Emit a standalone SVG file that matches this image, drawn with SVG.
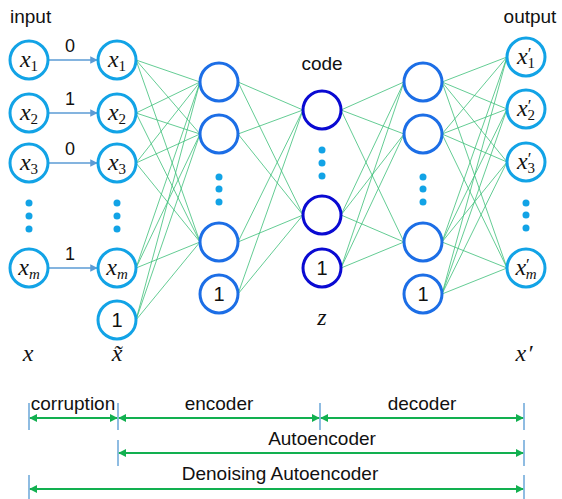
<svg xmlns="http://www.w3.org/2000/svg" width="562" height="499" viewBox="0 0 562 499">
<style>
.io{fill:#fff;stroke:#12a3e6;stroke-width:3}
.hid{fill:#fff;stroke:#1c6ee6;stroke-width:3}
.cod{fill:#fff;stroke:#0a0ad2;stroke-width:3}
.dot{fill:#12a3e6}
.w{stroke:#3cbf78;stroke-width:0.8;fill:none}
.in{stroke:#5b9bd5;stroke-width:1.5;fill:none}
.tick{stroke:#6aa6d8;stroke-width:1.5}
.dim{stroke:#12b050;stroke-width:2;fill:none}
.lbl{font-family:"Liberation Sans",Arial,sans-serif;font-size:19px;fill:#111}
.one{font-family:"Liberation Sans",Arial,sans-serif;font-size:20px;fill:#111;text-anchor:middle}
.m{font-family:"Liberation Serif","DejaVu Serif",serif;font-style:italic;font-size:24px;fill:#111;text-anchor:middle}
.s{font-size:15px;font-style:normal}
.si{font-size:15px}
.p{font-size:17px;font-style:normal}
</style>
<defs>
<marker id="ab" viewBox="0 0 10 10" refX="9" refY="5" markerWidth="5" markerHeight="5" orient="auto"><path d="M0,0 L10,5 L0,10 z" fill="#5b9bd5"/></marker>
<marker id="ag" viewBox="0 0 10 10" refX="9" refY="5" markerWidth="4" markerHeight="4" orient="auto-start-reverse"><path d="M0,0 L10,5 L0,10 z" fill="#12b050"/></marker>
</defs>

<g id="connectors">
<g class="w">
<line x1="136" y1="60" x2="200" y2="82"/><line x1="136" y1="60" x2="200" y2="134"/><line x1="136" y1="60" x2="200" y2="242"/>
<line x1="136" y1="113" x2="200" y2="82"/><line x1="136" y1="113" x2="200" y2="134"/><line x1="136" y1="113" x2="200" y2="242"/>
<line x1="136" y1="163" x2="200" y2="82"/><line x1="136" y1="163" x2="200" y2="134"/><line x1="136" y1="163" x2="200" y2="242"/>
<line x1="136" y1="268" x2="200" y2="82"/><line x1="136" y1="268" x2="200" y2="134"/><line x1="136" y1="268" x2="200" y2="242"/>
<line x1="136" y1="320" x2="200" y2="82"/><line x1="136" y1="320" x2="200" y2="134"/><line x1="136" y1="320" x2="200" y2="242"/>
<line x1="238" y1="82" x2="303" y2="110"/><line x1="238" y1="82" x2="303" y2="215"/>
<line x1="238" y1="134" x2="303" y2="110"/><line x1="238" y1="134" x2="303" y2="215"/>
<line x1="238" y1="242" x2="303" y2="110"/><line x1="238" y1="242" x2="303" y2="215"/>
<line x1="238" y1="294" x2="303" y2="110"/><line x1="238" y1="294" x2="303" y2="215"/>
<line x1="341" y1="110" x2="404" y2="82"/><line x1="341" y1="110" x2="404" y2="134"/><line x1="341" y1="110" x2="404" y2="242"/>
<line x1="341" y1="215" x2="404" y2="82"/><line x1="341" y1="215" x2="404" y2="134"/><line x1="341" y1="215" x2="404" y2="242"/>
<line x1="341" y1="268" x2="404" y2="82"/><line x1="341" y1="268" x2="404" y2="134"/><line x1="341" y1="268" x2="404" y2="242"/>
<line x1="442" y1="82" x2="507" y2="57"/><line x1="442" y1="82" x2="507" y2="109"/><line x1="442" y1="82" x2="507" y2="162"/><line x1="442" y1="82" x2="507" y2="268"/>
<line x1="442" y1="134" x2="507" y2="57"/><line x1="442" y1="134" x2="507" y2="109"/><line x1="442" y1="134" x2="507" y2="162"/><line x1="442" y1="134" x2="507" y2="268"/>
<line x1="442" y1="242" x2="507" y2="57"/><line x1="442" y1="242" x2="507" y2="109"/><line x1="442" y1="242" x2="507" y2="162"/><line x1="442" y1="242" x2="507" y2="268"/>
<line x1="442" y1="294" x2="507" y2="57"/><line x1="442" y1="294" x2="507" y2="109"/><line x1="442" y1="294" x2="507" y2="162"/><line x1="442" y1="294" x2="507" y2="268"/>
</g>
<g class="in" marker-end="url(#ab)">
<line x1="49" y1="60" x2="97" y2="60"/>
<line x1="49" y1="113" x2="97" y2="113"/>
<line x1="49" y1="163" x2="97" y2="163"/>
<line x1="49" y1="268" x2="97" y2="268"/>
</g>
<g class="one">
<text x="70" y="52" font-size="18">0</text>
<text x="70" y="105" font-size="18">1</text>
<text x="70" y="155" font-size="18">0</text>
<text x="70" y="260" font-size="18">1</text>
</g>
</g>

<text class="lbl" x="10" y="23">input</text>
<text class="lbl" x="530" y="23" text-anchor="middle">output</text>
<text class="lbl" x="322" y="70" text-anchor="middle">code</text>

<g id="input-layer">
<g id="in-x1"><circle class="io" cx="29" cy="60" r="19"/><text class="m" x="29" y="67">x<tspan class="s" dy="4">1</tspan></text></g>
<g id="in-x2"><circle class="io" cx="29" cy="113" r="19"/><text class="m" x="29" y="120">x<tspan class="s" dy="4">2</tspan></text></g>
<g id="in-x3"><circle class="io" cx="29" cy="163" r="19"/><text class="m" x="29" y="170">x<tspan class="s" dy="4">3</tspan></text></g>
<g id="in-dots"><circle class="dot" cx="29" cy="203" r="3.5"/><circle class="dot" cx="29" cy="216" r="3.5"/><circle class="dot" cx="29" cy="229" r="3.5"/></g>
<g id="in-xm"><circle class="io" cx="29" cy="268" r="19"/><text class="m" x="29" y="275">x<tspan class="si" dy="4">m</tspan></text></g>
<text class="m" x="28" y="361">x</text>
</g>

<g id="corrupt-layer">
<g id="c-x1"><circle class="io" cx="117" cy="60" r="19"/><text class="m" x="117" y="67">x<tspan class="s" dy="4">1</tspan></text></g>
<g id="c-x2"><circle class="io" cx="117" cy="113" r="19"/><text class="m" x="117" y="120">x<tspan class="s" dy="4">2</tspan></text></g>
<g id="c-x3"><circle class="io" cx="117" cy="163" r="19"/><text class="m" x="117" y="170">x<tspan class="s" dy="4">3</tspan></text></g>
<g id="c-dots"><circle class="dot" cx="117" cy="203" r="3.5"/><circle class="dot" cx="117" cy="216" r="3.5"/><circle class="dot" cx="117" cy="229" r="3.5"/></g>
<g id="c-xm"><circle class="io" cx="117" cy="268" r="19"/><text class="m" x="117" y="275">x<tspan class="si" dy="4">m</tspan></text></g>
<g id="c-bias"><circle class="io" cx="117" cy="320" r="19"/><text class="one" x="117" y="327">1</text></g>
<text class="m" x="117" y="361">x̃</text>
</g>

<g id="encoder-layer">
<g id="h1-1"><circle class="hid" cx="219" cy="82" r="19"/></g>
<g id="h1-2"><circle class="hid" cx="219" cy="134" r="19"/></g>
<g id="h1-dots"><circle class="dot" cx="219" cy="177" r="3.5"/><circle class="dot" cx="219" cy="189" r="3.5"/><circle class="dot" cx="219" cy="202" r="3.5"/></g>
<g id="h1-3"><circle class="hid" cx="219" cy="242" r="19"/></g>
<g id="h1-bias"><circle class="hid" cx="219" cy="294" r="19"/><text class="one" x="219" y="301">1</text></g>
</g>

<g id="code-layer">
<g id="z-1"><circle class="cod" cx="322" cy="110" r="19"/></g>
<g id="z-dots"><circle class="dot" cx="322" cy="150" r="3.5"/><circle class="dot" cx="322" cy="163" r="3.5"/><circle class="dot" cx="322" cy="176" r="3.5"/></g>
<g id="z-2"><circle class="cod" cx="322" cy="215" r="19"/></g>
<g id="z-bias"><circle class="cod" cx="322" cy="268" r="19"/><text class="one" x="322" y="275">1</text></g>
<text class="m" x="322" y="325">z</text>
</g>

<g id="decoder-layer">
<g id="h2-1"><circle class="hid" cx="423" cy="82" r="19"/></g>
<g id="h2-2"><circle class="hid" cx="423" cy="134" r="19"/></g>
<g id="h2-dots"><circle class="dot" cx="423" cy="177" r="3.5"/><circle class="dot" cx="423" cy="189" r="3.5"/><circle class="dot" cx="423" cy="202" r="3.5"/></g>
<g id="h2-3"><circle class="hid" cx="423" cy="242" r="19"/></g>
<g id="h2-bias"><circle class="hid" cx="423" cy="294" r="19"/><text class="one" x="423" y="301">1</text></g>
</g>

<g id="output-layer">
<g id="o-x1"><circle class="io" cx="526" cy="57" r="19"/><text class="m" x="526" y="64">x<tspan class="p" dx="0" dy="-5">′</tspan><tspan class="s" dx="-4" dy="9">1</tspan></text></g>
<g id="o-x2"><circle class="io" cx="526" cy="109" r="19"/><text class="m" x="526" y="116">x<tspan class="p" dx="0" dy="-5">′</tspan><tspan class="s" dx="-4" dy="9">2</tspan></text></g>
<g id="o-x3"><circle class="io" cx="526" cy="162" r="19"/><text class="m" x="526" y="169">x<tspan class="p" dx="0" dy="-5">′</tspan><tspan class="s" dx="-4" dy="9">3</tspan></text></g>
<g id="o-dots"><circle class="dot" cx="526" cy="203" r="3.5"/><circle class="dot" cx="526" cy="215" r="3.5"/><circle class="dot" cx="526" cy="228" r="3.5"/></g>
<g id="o-xm"><circle class="io" cx="526" cy="268" r="19"/><text class="m" x="526" y="275">x<tspan class="p" dx="0" dy="-5">′</tspan><tspan class="si" dx="-4" dy="9">m</tspan></text></g>
<text class="m" x="524" y="361">x<tspan dx="1">′</tspan></text>
</g>

<g id="spans">
<g class="tick">
<line x1="29" y1="403" x2="29" y2="430"/><line x1="118" y1="403" x2="118" y2="430"/><line x1="320" y1="403" x2="320" y2="430"/><line x1="524" y1="403" x2="524" y2="430"/>
<line x1="118" y1="440" x2="118" y2="466"/><line x1="524" y1="440" x2="524" y2="466"/>
<line x1="29" y1="475" x2="29" y2="499"/><line x1="524" y1="475" x2="524" y2="499"/>
</g>
<g class="dim" marker-start="url(#ag)" marker-end="url(#ag)">
<line x1="30" y1="418" x2="117" y2="418"/>
<line x1="119" y1="418" x2="319" y2="418"/>
<line x1="321" y1="418" x2="523" y2="418"/>
<line x1="119" y1="453" x2="523" y2="453"/>
<line x1="30" y1="489" x2="523" y2="489"/>
</g>
<text class="lbl" x="73" y="410" text-anchor="middle">corruption</text>
<text class="lbl" x="219" y="410" text-anchor="middle">encoder</text>
<text class="lbl" x="422" y="410" text-anchor="middle">decoder</text>
<text class="lbl" x="322" y="445" text-anchor="middle">Autoencoder</text>
<text class="lbl" x="280" y="480" text-anchor="middle">Denoising Autoencoder</text>
</g>
</svg>
